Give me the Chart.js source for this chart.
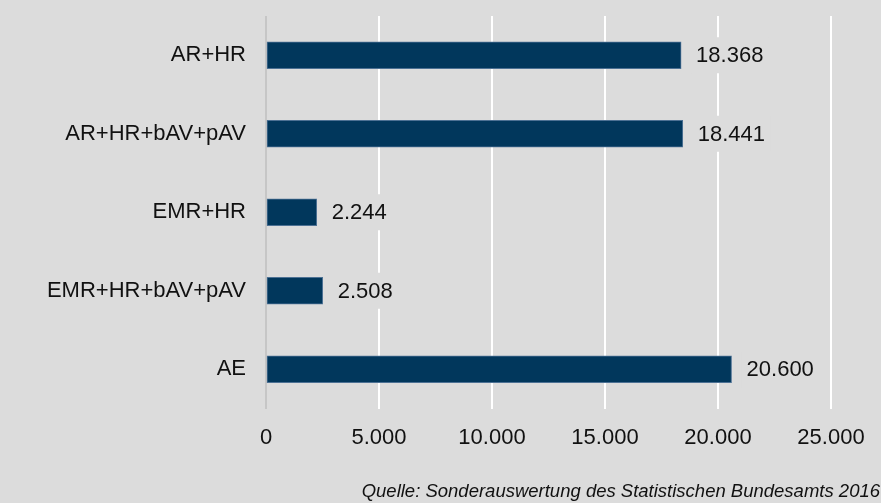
<!DOCTYPE html>
<html>
<head>
<meta charset="utf-8">
<script src="https://cdn.jsdelivr.net/npm/chart.js@4.4.1/dist/chart.umd.min.js"></script>
<style>
  html, body { margin: 0; padding: 0; background: #dcdcdc; }
  #wrap { width: 881px; height: 503px; position: relative; }
</style>
</head>
<body>
<div id="wrap"><canvas id="c" width="881" height="503"></canvas></div>
<script>
const categories = ['AR+HR', 'AR+HR+bAV+pAV', 'EMR+HR', 'EMR+HR+bAV+pAV', 'AE'];
const values = [18368, 18441, 2244, 2508, 20600];
const xTicks = [0, 5000, 10000, 15000, 20000, 25000];
const sourceText = 'Quelle: Sonderauswertung des Statistischen Bundesamts 2016';

const BG = '#dcdcdc';
const FONT = '"Liberation Sans", Arial, sans-serif';

function fmt(v) {
  return String(Math.round(v)).replace(/\B(?=(\d{3})+(?!\d))/g, '.');
}

const bgPlugin = {
  id: 'bg',
  beforeDraw(chart) {
    const ctx = chart.ctx;
    ctx.save();
    ctx.fillStyle = BG;
    ctx.fillRect(0, 0, chart.width, chart.height);
    ctx.restore();
  }
};

const labelPlugin = {
  id: 'barLabels',
  afterDatasetsDraw(chart) {
    const ctx = chart.ctx;
    const meta = chart.getDatasetMeta(0);
    ctx.save();
    ctx.font = '22px ' + FONT;
    ctx.textBaseline = 'middle';
    ctx.textAlign = 'left';
    meta.data.forEach((bar, i) => {
      const txt = fmt(values[i]);
      const w = ctx.measureText(txt).width;
      const x = bar.x + 15;
      const y = bar.y;
      ctx.fillStyle = BG;
      ctx.fillRect(x - 5, y - 18, w + 10, 36);
      ctx.fillStyle = '#111111';
      ctx.fillText(txt, x, y + 1);
    });
    ctx.restore();
  }
};

const sourcePlugin = {
  id: 'source',
  afterDraw(chart) {
    const ctx = chart.ctx;
    ctx.save();
    ctx.font = 'italic 18.5px ' + FONT;
    ctx.fillStyle = '#111111';
    ctx.textAlign = 'right';
    ctx.textBaseline = 'alphabetic';
    ctx.fillText(sourceText, 880, 497);
    ctx.restore();
  }
};

new Chart(document.getElementById('c'), {
  type: 'bar',
  data: {
    labels: categories,
    datasets: [{
      data: values,
      backgroundColor: '#01375c',
      borderColor: '#4d7194',
      borderWidth: 1,
      borderSkipped: false,
      barThickness: 27
    }]
  },
  options: {
    indexAxis: 'y',
    responsive: false,
    animation: false,
    layout: { padding: { top: 16, right: 50, bottom: 0, left: 0 } },
    plugins: {
      legend: { display: false },
      tooltip: { enabled: false }
    },
    scales: {
      x: {
        min: 0,
        max: 25000,
        afterBuildTicks(scale) { scale.ticks = xTicks.map(v => ({ value: v })); },
        afterFit(scale) { scale.height = 94.5; scale.paddingLeft = 0; scale.paddingRight = 0; },
        grid: {
          color: (ctx) => ctx.tick && ctx.tick.value === 0 ? '#c6c6c6' : '#ffffff',
          lineWidth: 2,
          drawTicks: false,
          tickLength: 0
        },
        border: { display: false },
        ticks: {
          padding: 16,
          color: '#111111',
          font: { family: FONT, size: 22 },
          maxRotation: 0,
          callback: (v) => fmt(v)
        }
      },
      y: {
        afterFit(scale) { scale.width = 266; scale.paddingTop = 0; scale.paddingBottom = 0; },
        grid: { display: false, drawTicks: false, tickLength: 0 },
        border: { display: false },
        ticks: {
          padding: 20,
          color: '#111111',
          font: { family: FONT, size: 22 }
        }
      }
    }
  },
  plugins: [bgPlugin, labelPlugin, sourcePlugin]
});
</script>
</body>
</html>
